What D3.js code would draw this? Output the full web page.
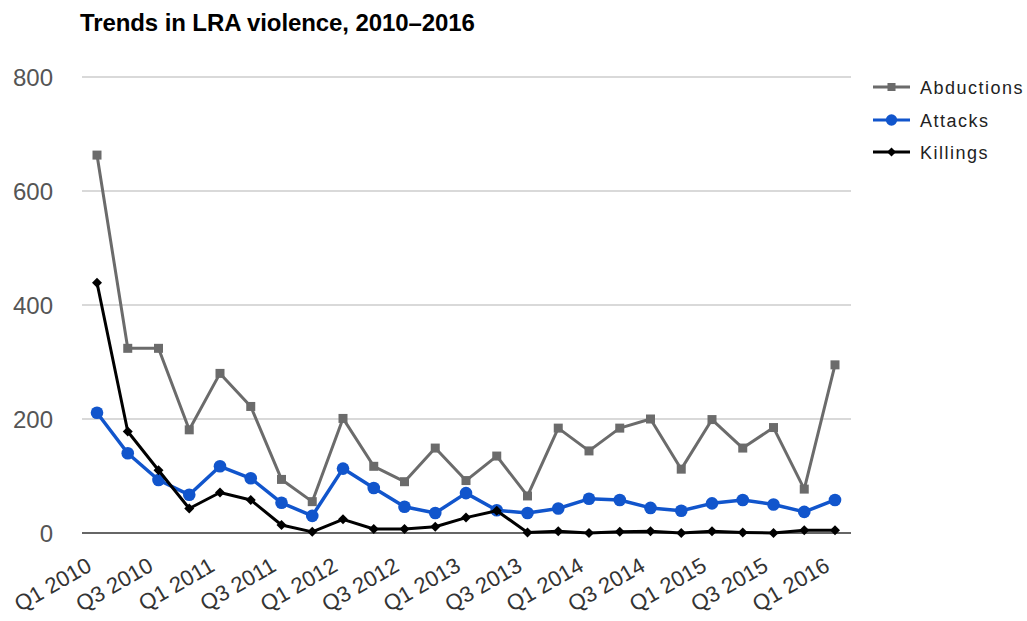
<!DOCTYPE html>
<html><head><meta charset="utf-8">
<script src="https://cdn.jsdelivr.net/npm/d3@7"></script>
<style>
body{margin:0;background:#fff;}
svg{display:block;font-family:"Liberation Sans",Arial,sans-serif;}
</style></head>
<body><svg id="c" width="1027" height="621"></svg>
<script>
const quarters = ["Q1 2010","Q2 2010","Q3 2010","Q4 2010","Q1 2011","Q2 2011","Q3 2011","Q4 2011",
  "Q1 2012","Q2 2012","Q3 2012","Q4 2012","Q1 2013","Q2 2013","Q3 2013","Q4 2013",
  "Q1 2014","Q2 2014","Q3 2014","Q4 2014","Q1 2015","Q2 2015","Q3 2015","Q4 2015","Q1 2016"];
const abductions = [663,324,324,181,280,222,94,55,201,117,90,149,92,135,65,184,144,184,200,112,199,149,185,77,295];
const attacks =    [211,140,93,67,117,96,53,30,113,79,46,35,70,40,35,43,60,58,44,39,52,58,50,37,58];
const killings =   [439,178,110,43,71,58,14,2,24,7,7,11,27,39,1,3,0,2,3,0,3,1,0,5,5];
const yTicks = [0,200,400,600,800];
const seriesNames = ["Abductions","Attacks","Killings"];

const svg = d3.select("#c");
const x = d3.scalePoint().domain(quarters).range([97,835]);
const y = d3.scaleLinear().domain([0,800]).range([533,77]);

svg.append("text").attr("x",80).attr("y",31).attr("font-weight","bold").attr("font-size",24)
  .attr("letter-spacing","-0.1").attr("fill","#000").text("Trends in LRA violence, 2010–2016");

const g = svg.append("g");
g.selectAll("line.grid").data(yTicks.filter(d=>d>0)).join("line")
  .attr("x1",82).attr("x2",851).attr("y1",d=>y(d)).attr("y2",d=>y(d))
  .attr("stroke","#cccccc").attr("stroke-width",1.5);
g.append("line").attr("x1",82).attr("x2",851).attr("y1",y(0)).attr("y2",y(0))
  .attr("stroke","#333").attr("stroke-width",1.5);
g.selectAll("text.yl").data(yTicks).join("text")
  .attr("x",53).attr("y",d=>y(d)+8.5).attr("text-anchor","end").attr("font-size",24)
  .attr("fill","#555").text(d=>d);

const shown = quarters.filter((q,i)=>i%2===0);
g.selectAll("text.xl").data(shown).join("text")
  .attr("text-anchor","end").attr("font-size",22).attr("fill","#333")
  .attr("transform",d=>`translate(${x(d)-4},${570}) rotate(-30)`)
  .text(d=>d);

const series = [
  {name:"Abductions", vals:abductions, color:"#6b6b6b", shape:d3.symbolSquare, size:81, rot:0, w:3},
  {name:"Attacks", vals:attacks, color:"#1155cc", shape:d3.symbolCircle, size:125, rot:0, w:3.5},
  {name:"Killings", vals:killings, color:"#000000", shape:d3.symbolSquare, size:50, rot:45, w:3}
];
const line = d3.line().x((d,i)=>x(quarters[i])).y(d=>y(d));
series.forEach(s=>{
  g.append("path").datum(s.vals).attr("d",line).attr("fill","none")
    .attr("stroke",s.color).attr("stroke-width",s.w).attr("stroke-linejoin","round");
  g.selectAll(null).data(s.vals).join("path")
    .attr("d",d3.symbol().type(s.shape).size(s.size))
    .attr("transform",(d,i)=>`translate(${x(quarters[i])},${y(d)}) rotate(${s.rot})`)
    .attr("fill",s.color);
});

const lg = svg.append("g");
const legY = [87,120,152];
series.forEach((s,i)=>{
  const yy = legY[i];
  lg.append("line").attr("x1",873).attr("x2",910).attr("y1",yy).attr("y2",yy)
    .attr("stroke",s.color).attr("stroke-width",3);
  lg.append("path").attr("d",d3.symbol().type(s.shape).size(s.size*0.8))
    .attr("transform",`translate(891.5,${yy}) rotate(${s.rot})`).attr("fill",s.color);
  lg.append("text").attr("x",920).attr("y",yy+6.5).attr("font-size",18).attr("fill","#222")
    .attr("letter-spacing","1.5").text(seriesNames[i]);
});
</script></body></html>
